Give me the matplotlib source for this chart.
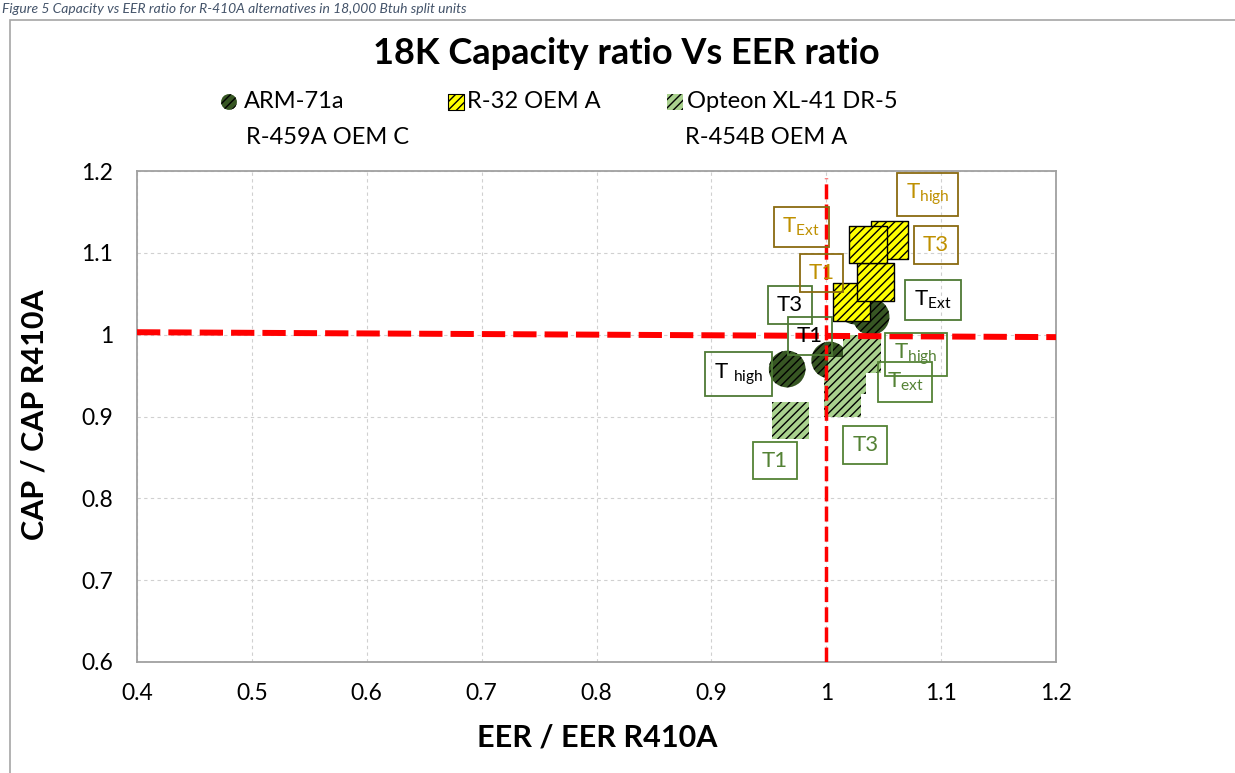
import numpy as np
import matplotlib.pyplot as plt
from matplotlib.patches import Rectangle

plt.rcParams['font.family'] = ['Lato', 'DejaVu Sans']
plt.rcParams['mathtext.fontset'] = 'custom'
plt.rcParams['mathtext.rm'] = 'Lato'
plt.rcParams['mathtext.it'] = 'Lato:italic'
plt.rcParams['hatch.linewidth'] = 1.0

# data
arm_labels = ['T high', 'T1', 'T3', 'T_Ext']
arm_eer = [0.966, 1.003, 1.025, 1.039]
arm_cap = [0.958, 0.969, 1.035, 1.022]

r32_labels = ['T1', 'T3', 'T_high', 'T_Ext']
r32_eer = [1.022, 1.043, 1.055, 1.0365]
r32_cap = [1.040, 1.064, 1.116, 1.110]

opt_labels = ['T1', 'T3', 'T_ext', 'T_high']
opt_eer = [0.969, 1.014, 1.018, 1.031]
opt_cap = [0.895, 0.923, 0.950, 0.976]

ref_h_x = [0.4, 1.2]
ref_h_y = [1.003, 0.997]
ref_v_x = [1.0, 1.0]
ref_v_y = [0.6, 1.192]

xticks = [0.4, 0.5, 0.6, 0.7, 0.8, 0.9, 1.0, 1.1, 1.2]
yticks = [0.6, 0.7, 0.8, 0.9, 1.0, 1.1, 1.2]

# label placement, pixel offsets from each point
arm_off = [(-49, -5), (-20, 24), (-65, 1), (62, 17)]
r32_off = [(-30, 29), (60, 37), (38, 45), (-67, 18)]
opt_off = [(-16, -40), (23, -47), (58, -6), (54, 0)]

def tex(s):
    if s == 'T high':
        return r'T $_{\rm high}$'
    if '_' in s:
        a, b = s.split('_')
        return a + r'$_{\rm ' + b + '}$'
    return s

fig = plt.figure(figsize=(12.35, 7.73), dpi=100)
ax = fig.add_axes([137/1235, 1-662/773, (1056-137)/1235, (662-171)/773])

dkgreen = '#375623'
ltgreen = '#a9d18e'

ax.scatter(arm_eer, arm_cap, s=700, marker='o', facecolor=dkgreen, edgecolor='black',
           linewidths=0, hatch='////', zorder=3)
ax.scatter(r32_eer[:3], r32_cap[:3], s=735, marker='s', facecolor='#ffff00',
           edgecolor='black', linewidths=1.0, hatch='////', zorder=4)
ax.scatter(r32_eer[3:], r32_cap[3:], s=735, marker='s', facecolor='#ffff00',
           edgecolor='black', linewidths=1.0, hatch='////', zorder=4)
ax.scatter(opt_eer, opt_cap, s=735, marker='s', facecolor=ltgreen, edgecolor='black',
           linewidths=0, hatch='////', zorder=5)

ax.plot(ref_h_x, ref_h_y, color='red', lw=4.3, dashes=(3.9, 1.35), zorder=6,
        solid_capstyle='butt')
ax.plot(ref_v_x, ref_v_y, color='red', lw=2.5, dashes=(4.3, 1.5), zorder=6)

def put_labels(xs, ys, names, offs, tcol, bcol):
    for x, y, n, o in zip(xs, ys, names, offs):
        ax.annotate(tex(n), (x, y), xytext=o, textcoords='offset pixels',
                    ha='center', va='center', fontsize=16, color=tcol, zorder=7,
                    bbox=dict(boxstyle='square,pad=0.4', facecolor='none',
                              edgecolor=bcol, lw=1.3))

put_labels(arm_eer, arm_cap, arm_labels, arm_off, 'black', '#4e7a35')
put_labels(r32_eer, r32_cap, r32_labels, r32_off, '#bf9000', '#8a6a10')
put_labels(opt_eer, opt_cap, opt_labels, opt_off, '#548235', '#548235')

ax.set_xlim(0.4, 1.2)
ax.set_ylim(0.6, 1.2)
ax.set_xticks(xticks)
ax.set_yticks(yticks)
ax.set_xticklabels(['0.4', '0.5', '0.6', '0.7', '0.8', '0.9', '1', '1.1', '1.2'])
ax.set_yticklabels(['0.6', '0.7', '0.8', '0.9', '1', '1.1', '1.2'])
ax.tick_params(length=0, labelsize=16.5)
ax.tick_params(axis='x', pad=15)
ax.tick_params(axis='y', pad=17)
ax.grid(True, color='#d0d0d0', ls=(0, (3, 3)), lw=0.8)
for sp in ax.spines.values():
    sp.set_color('#a0a0a0')
    sp.set_linewidth(1.3)

ax.set_xlabel('EER / EER R410A', fontsize=22, fontweight='bold')
ax.set_ylabel('CAP / CAP R410A', fontsize=22, fontweight='bold')
ax.xaxis.set_label_coords(0.5005, -0.153)
ax.yaxis.set_label_coords(-0.111, 0.503)
ax.xaxis.label.set_va('center')
ax.yaxis.label.set_va('center')

fig.text(626/1235, 1-53/773, '18K Capacity ratio Vs EER ratio', ha='center',
         va='center', fontsize=26, fontweight='bold')

# legend drawn by hand, marker on the first text line
lg = fig.add_axes([0, 0, 1, 1], zorder=-1)
lg.set_xlim(0, 1235)
lg.set_ylim(773, 0)
lg.axis('off')
lg.scatter([229], [102], s=130, marker='o', facecolor=dkgreen, edgecolor='black',
           linewidths=0, hatch='////')
lg.scatter([456], [102], s=130, marker='s', facecolor='#ffff00', edgecolor='black',
           linewidths=0.8, hatch='////')
lg.scatter([675], [102], s=130, marker='s', facecolor=ltgreen, edgecolor='black',
           linewidths=0, hatch='////')
lg.text(244, 102, 'ARM-71a', fontsize=17, va='center')
lg.text(246, 138, 'R-459A OEM C', fontsize=17, va='center')
lg.text(467, 102, 'R-32 OEM A', fontsize=17, va='center')
lg.text(687, 102, 'Opteon XL-41 DR-5', fontsize=17, va='center')
lg.text(685, 138, 'R-454B OEM A', fontsize=17, va='center')

fig.add_artist(Rectangle((10/1235, -0.01), 1.1, (773-20)/773 + 0.01,
                         transform=fig.transFigure, fill=False,
                         edgecolor='#a6a6a6', lw=1.2))
fig.text(0.002, 1-13/773, 'Figure 5 Capacity vs EER ratio for R-410A alternatives in 18,000 Btuh split units',
         fontsize=10, style='italic', color='#44546a', va='baseline')

fig.savefig('out.png', dpi=100)
